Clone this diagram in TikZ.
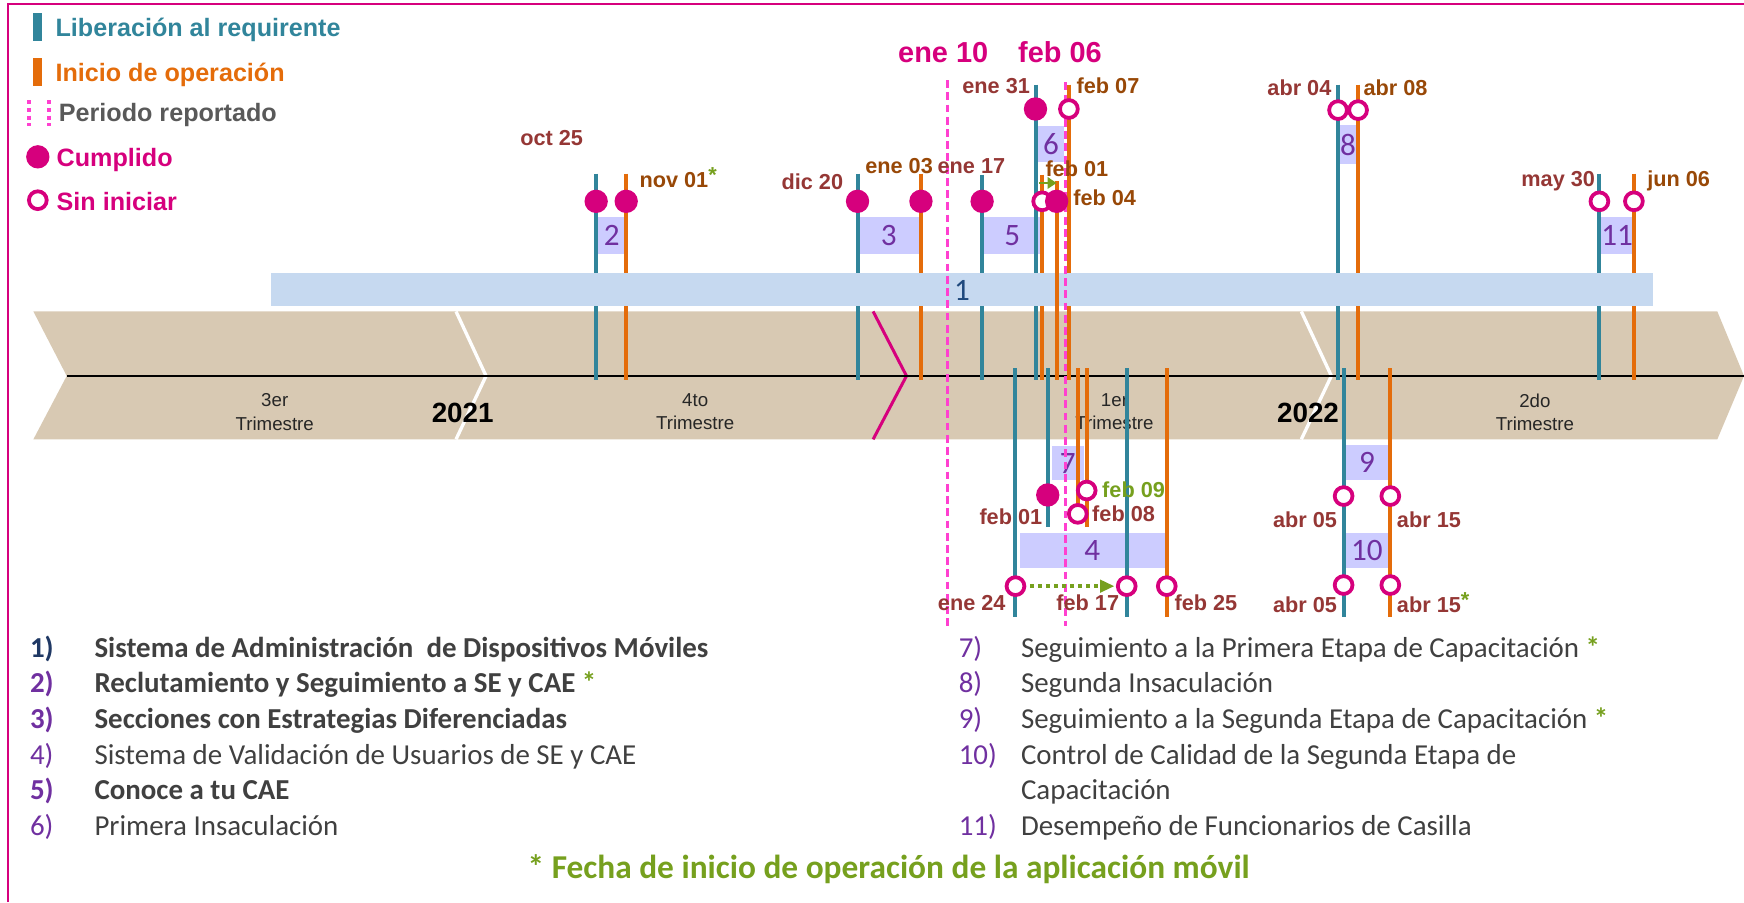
\documentclass[tikz,border=0pt]{standalone}
\usepackage{fontspec}
\setmainfont{Liberation Sans}
\newfontfamily\calib{Carlito}
\usetikzlibrary{arrows.meta}

\definecolor{libteal}{RGB}{49,133,155}
\definecolor{iniorange}{RGB}{228,108,10}
\definecolor{magc}{RGB}{214,0,125}
\definecolor{dashpink}{RGB}{255,64,208}
\definecolor{bandtan}{RGB}{216,201,179}
\definecolor{bar1blue}{RGB}{198,217,240}
\definecolor{boxlav}{RGB}{204,204,255}
\definecolor{numpurple}{RGB}{112,48,160}
\definecolor{navyblue}{RGB}{31,73,125}
\definecolor{datered}{RGB}{149,55,53}
\definecolor{datebrown}{RGB}{152,72,7}
\definecolor{appgreen}{RGB}{118,160,30}
\definecolor{reportgray}{RGB}{89,89,89}
\definecolor{listgray}{RGB}{64,64,64}
\definecolor{listnavy}{RGB}{31,56,100}

\begin{document}
\begin{tikzpicture}[x=1pt,y=-1pt,
  every node/.style={inner sep=0pt,outer sep=0pt},
  libline/.style={draw=libteal,line width=3.6pt},
  iniline/.style={draw=iniorange,line width=3.6pt},
  done/.style={circle,fill=magc,minimum size=21pt},
  todo/.style={circle,draw=magc,fill=white,line width=3.4pt,minimum size=16pt},
  perdash/.style={draw=dashpink,line width=2.4pt,dash pattern=on 7pt off 4pt},
  legtxt/.style={anchor=base west,font=\bfseries\fontsize{22.6}{24}\selectfont},
  perlbl/.style={anchor=base,font=\bfseries\fontsize{26}{26}\selectfont,text=magc},
  num/.style={font=\calib\fontsize{28}{28}\selectfont,text=numpurple},
  datelib/.style={font=\bfseries\fontsize{19.5}{20}\selectfont,text=datered},
  dateini/.style={font=\bfseries\fontsize{19.5}{20}\selectfont,text=datebrown},
  qtr/.style={align=center,anchor=north,font=\fontsize{16.8}{21}\selectfont,text=black!85},
  yr/.style={anchor=base,font=\bfseries\fontsize{25}{25}\selectfont},
  itemnum/.style={anchor=base west,font=\calib\fontsize{26}{26}\selectfont,text=numpurple},
  itemtxt/.style={anchor=base west,font=\calib\fontsize{26}{26}\selectfont,text=listgray},
  itembold/.style={font=\calib\bfseries\fontsize{26}{26}\selectfont}]
\useasboundingbox (0,0) rectangle (1568,811);

% Frame
\draw[magc,line width=1.8pt] (7,811) -- (7,4) -- (1568,4);

% Legend
\fill[libteal] (30,12) rectangle (38,37);
\node[legtxt,text=libteal] (legLib) at (50,33) {Liberación al requirente};
\fill[iniorange] (30,52) rectangle (38,77);
\node[legtxt,text=iniorange] (legIni) at (50,73.5) {Inicio de operación};
\draw[dashpink,line width=3.5pt,dash pattern=on 3.5pt off 3.5pt] (26,90) -- (26,113);
\draw[dashpink,line width=3.5pt,dash pattern=on 3.5pt off 3.5pt] (44,90) -- (44,113);
\node[legtxt,text=reportgray] (legPer) at (53,109.5) {Periodo reportado};
\node[done] (legDone) at (34,141) {};
\node[legtxt,text=magc] (legCum) at (51,150) {Cumplido};
\node[todo] (legTodo) at (34,180) {};
\node[legtxt,text=magc] (legSin) at (51,189) {Sin iniciar};

% Timeline band
\fill[bandtan] (30,280) -- (1544,280) -- (1568,338) -- (1544,395) -- (30,395) -- (60,338) -- cycle;
\draw[white,line width=3pt] (410,280) -- (437,338) -- (410,395);
\draw[white,line width=3pt] (1170,280) -- (1197,338) -- (1170,395);
\draw[magc,line width=2.7pt] (785,280) -- (815,338) -- (785,395);
\draw[black,line width=1.6pt] (60,338) -- (1568,338);
\node[qtr] (q3) at (247,354) {3er\\Trimestre};
\node[qtr] (q4) at (625,354) {4to\\Trimestre};
\node[qtr] (q1) at (1002,354) {1er\\Trimestre};
\node[qtr] (q2) at (1380,354) {2do\\Trimestre};
\node[yr] (y21) at (416,380) {2021};
\node[yr] (y22) at (1176,380) {2022};

% Activity boxes
\fill[boxlav] (538,195) rectangle (562,228);
\fill[boxlav] (772,195) rectangle (827,228);
\fill[boxlav] (884,195) rectangle (936,228);
\fill[boxlav] (932,113) rectangle (957,146);
\fill[boxlav] (1204,112) rectangle (1220,147);
\fill[boxlav] (1439,195) rectangle (1468,228);
\fill[boxlav] (946,401) rectangle (975,432);
\fill[boxlav] (917,479) rectangle (1047,511);
\fill[boxlav] (1208,400) rectangle (1250,432);
\fill[boxlav] (1208,479) rectangle (1250,511);
\node[num] (n2) at (550,212) {2};
\node[num] (n3) at (799,212) {3};
\node[num] (n5) at (910,212) {5};
\node[num] (n6) at (945,130) {6};
\node[num] (n8) at (1212,130) {8};
\node[num] (n11) at (1454,212) {11};
\node[num] (n7) at (960,417) {7};
\node[num] (n4) at (982,495) {4};
\node[num] (n9) at (1229,416) {9};
\node[num] (n10) at (1229,495) {10};

% Upper markers
\draw[libline] (536,156) -- (536,342);
\draw[iniline] (563,156) -- (563,342);
\draw[libline] (771,156) -- (771,342);
\draw[iniline] (828,156) -- (828,342);
\draw[libline] (883,157) -- (883,342);
\draw[libline] (931,76) -- (931,342);
\draw[iniline] (937,157) -- (937,342);
\draw[iniline] (961,76) -- (961,342);
\draw[libline] (1203,76) -- (1203,342);
\draw[iniline] (1221,76) -- (1221,342);
\draw[libline] (1438,156) -- (1438,342);
\draw[iniline] (1469,156) -- (1469,342);

% Bar 1
\fill[bar1blue] (244,245) rectangle (1486,275);
\node[num,text=navyblue] (n1) at (865,261) {1};
\draw[iniline] (950,163) -- (950,342);

% Lower markers
\draw[libline] (913,331) -- (913,555);
\draw[libline] (942,331) -- (942,474);
\draw[iniline] (969,331) -- (969,456);
\draw[iniline] (977,331) -- (977,474);
\draw[libline] (1013,331) -- (1013,555);
\draw[iniline] (1049,331) -- (1049,555);
\draw[libline] (1208,331) -- (1208,555);
\draw[iniline] (1250,331) -- (1250,555);

% Reported period
\draw[perdash] (852,72) -- (852,563);
\draw[perdash] (958,74) -- (958,563);
\node[perlbl] (ene10) at (848,56) {ene 10};
\node[perlbl] (feb06) at (953,56) {feb 06};

% Milestones
\node[done] (oct25) at (536,181) {};
\node[done] (nov01) at (563,181) {};
\node[done] (dic20) at (771,181) {};
\node[done] (ene03) at (828,181) {};
\node[done] (ene17) at (883,181) {};
\node[done] (ene31) at (931,98) {};
\node[todo] (feb07) at (961,98) {};
\node[todo] (feb01a) at (937,181) {};
\node[done] (feb04) at (950,181) {};
\node[todo] (abr04) at (1203,99) {};
\node[todo] (abr08) at (1221,99) {};
\node[todo] (may30) at (1438,181) {};
\node[todo] (jun06) at (1469,181) {};
\node[done] (feb01b) at (942,445) {};
\node[todo] (feb09) at (977,441) {};
\node[todo] (feb08) at (969,462) {};
\node[todo] (ene24) at (913,527) {};
\node[todo] (feb17) at (1013,527) {};
\node[todo] (feb25) at (1049,527) {};
\node[todo] (abr05a) at (1208,446) {};
\node[todo] (abr15a) at (1250,446) {};
\node[todo] (abr05b) at (1208,526) {};
\node[todo] (abr15b) at (1250,526) {};

% Date labels
\node[datelib,anchor=base] at (496,131) {oct 25};
\node[dateini,anchor=base west] at (575,169) {nov 01\raisebox{5pt}{\textcolor{appgreen}{*}}};
\node[datelib,anchor=base east] at (758,170) {dic 20};
\node[dateini,anchor=base west] at (778,156) {ene 03};
\node[datelib,anchor=base west] at (843,156) {ene 17};
\node[datelib,anchor=base east] at (926,84) {ene 31};
\node[dateini,anchor=base west] at (968,84) {feb 07};
\node[dateini,anchor=base west] at (940,159) {feb 01};
\node[dateini,anchor=base west] at (965,185) {feb 04};
\node[datelib,anchor=base east] at (1197,86) {abr 04};
\node[dateini,anchor=base west] at (1226,86) {abr 08};
\node[datelib,anchor=base east] at (1434,168) {may 30};
\node[dateini,anchor=base west] at (1481,168) {jun 06};
\node[datelib,anchor=base east] at (937,472) {feb 01};
\node[datelib,anchor=base west,text=appgreen] at (991,447) {feb 09};
\node[datelib,anchor=base west] at (982,469) {feb 08};
\node[datelib,anchor=base east] at (904,549) {ene 24};
\node[datelib,anchor=base] at (978,549) {feb 17};
\node[datelib,anchor=base west] at (1056,549) {feb 25};
\node[datelib,anchor=base east] at (1202,474) {abr 05};
\node[datelib,anchor=base west] at (1256,474) {abr 15};
\node[datelib,anchor=base east] at (1202,551) {abr 05};
\node[datelib,anchor=base west] at (1256,551) {abr 15\raisebox{5pt}{\textcolor{appgreen}{*}}};

% Shifts of start date
\coordinate (shiftA) at (934,164.5);
\coordinate (shiftB) at (950,164.5);
\draw[appgreen,line width=2.6pt,-{Triangle[length=8pt,width=10pt]}] (shiftA) -- (shiftB);
\draw[appgreen,line width=3.6pt,dash pattern=on 3.6pt off 3.6pt,shorten <=5pt,shorten >=3pt,
  -{Triangle[length=13pt,width=11pt]}] (ene24) -- (feb17);

% Activity list
\node[itemnum,itembold,text=listnavy] (i1) at (27,591) {1)};
\node[itemtxt,itembold] (t1) at (85,591) {Sistema de Administración \ de Dispositivos Móviles};
\node[itemnum,itembold] (i2) at (27,623) {2)};
\node[itemtxt,itembold] (t2) at (85,623) {Reclutamiento y Seguimiento a SE y CAE \textcolor{appgreen}{*}};
\node[itemnum,itembold] (i3) at (27,655) {3)};
\node[itemtxt,itembold] (t3) at (85,655) {Secciones con Estrategias Diferenciadas};
\node[itemnum] (i4) at (27,687) {4)};
\node[itemtxt] (t4) at (85,687) {Sistema de Validación de Usuarios de SE y CAE};
\node[itemnum,itembold] (i5) at (27,719) {5)};
\node[itemtxt,itembold] (t5) at (85,719) {Conoce a tu CAE};
\node[itemnum] (i6) at (27,751) {6)};
\node[itemtxt] (t6) at (85,751) {Primera Insaculación};
\node[itemnum] (i7) at (862,591) {7)};
\node[itemtxt] (t7) at (918,591) {Seguimiento a la Primera Etapa de Capacitación \textcolor{appgreen}{\bfseries *}};
\node[itemnum] (i8) at (862,623) {8)};
\node[itemtxt] (t8) at (918,623) {Segunda Insaculación};
\node[itemnum] (i9) at (862,655) {9)};
\node[itemtxt] (t9) at (918,655) {Seguimiento a la Segunda Etapa de Capacitación \textcolor{appgreen}{\bfseries *}};
\node[itemnum] (i10) at (862,687) {10)};
\node[itemtxt] (t10) at (918,687) {Control de Calidad de la Segunda Etapa de};
\node[itemtxt] (t10b) at (918,719) {Capacitación};
\node[itemnum] (i11) at (862,751) {11)};
\node[itemtxt] (t11) at (918,751) {Desempeño de Funcionarios de Casilla};
\node[anchor=base,font=\calib\bfseries\fontsize{30}{30}\selectfont,text=appgreen] (note) at (799,790)
  {* Fecha de inicio de operación de la aplicación móvil};
\end{tikzpicture}
\end{document}
